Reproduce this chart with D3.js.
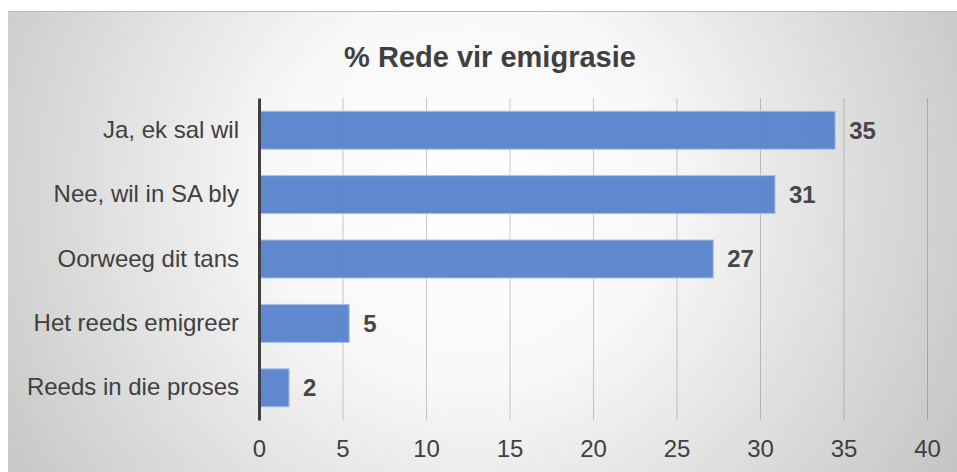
<!DOCTYPE html>
<html>
<head>
<meta charset="utf-8">
<script src="https://cdn.jsdelivr.net/npm/d3@7"></script>
<style>
  body { margin: 0; background: #fff; }
  svg { display: block; font-family: "Liberation Sans", Arial, sans-serif; }
</style>
</head>
<body>
<script>
const width = 957;
const height = 472;

const categories = ["Ja, ek sal wil", "Nee, wil in SA bly", "Oorweeg dit tans", "Het reeds emigreer", "Reeds in die proses"];
const values = [34.5, 30.9, 27.2, 5.4, 1.8];
const labels = ["35", "31", "27", "5", "2"];
const ticks = [0, 5, 10, 15, 20, 25, 30, 35, 40];

const svg = d3.select("body")
  .append("svg")
  .attr("width", width)
  .attr("height", height);

// background with radial gradient
const grad = svg.append("defs")
  .append("radialGradient")
  .attr("id", "bg")
  .attr("gradientUnits", "userSpaceOnUse")
  .attr("cx", 470).attr("cy", 190).attr("r", 560);
grad.append("stop").attr("offset", "0%").attr("stop-color", "#ffffff");
grad.append("stop").attr("offset", "35%").attr("stop-color", "#f8f8f8");
grad.append("stop").attr("offset", "100%").attr("stop-color", "#c4c4c4");

svg.append("rect")
  .attr("x", 8).attr("y", 11)
  .attr("width", width - 8).attr("height", height - 11)
  .attr("fill", "url(#bg)");
svg.append("line")
  .attr("x1", 8).attr("x2", width)
  .attr("y1", 11.5).attr("y2", 11.5)
  .attr("stroke", "#bdbdbd");

const x = d3.scaleLinear().domain([0, 40]).range([259, 927]);
const y = d3.scaleBand().domain(categories).range([98, 420]).paddingInner(0.41).paddingOuter(0.205);

// title
svg.append("text")
  .attr("x", 490).attr("y", 67)
  .attr("text-anchor", "middle")
  .attr("font-size", 29)
  .attr("font-weight", "bold")
  .attr("fill", "#404040")
  .text("% Rede vir emigrasie");

// gridlines
svg.append("g")
  .selectAll("line")
  .data(ticks.slice(1))
  .join("line")
  .attr("x1", d => x(d) + 0.5).attr("x2", d => x(d) + 0.5)
  .attr("y1", 98).attr("y2", 420)
  .attr("stroke", "#000")
  .attr("stroke-opacity", 0.2)
  .attr("stroke-width", 1);

// x tick labels
const xAxis = svg.append("g")
  .attr("transform", "translate(0,420)")
  .call(d3.axisBottom(x).tickValues(ticks).tickSize(0).tickPadding(20));
xAxis.select(".domain").remove();
xAxis.selectAll("text")
  .attr("font-family", "Liberation Sans, Arial, sans-serif")
  .attr("font-size", 24)
  .attr("fill", "#404040");

// bars
svg.append("g")
  .selectAll("rect")
  .data(values)
  .join("rect")
  .attr("x", x(0))
  .attr("y", (d, i) => y(categories[i]))
  .attr("width", d => x(d) - x(0))
  .attr("height", y.bandwidth())
  .attr("fill", "#5a84cc")
  .attr("fill-opacity", 0.97)
  .attr("stroke", "#a9c2ee")
  .attr("stroke-width", 1);

// value labels
svg.append("g")
  .selectAll("text")
  .data(values)
  .join("text")
  .attr("x", d => x(d) + 14)
  .attr("y", (d, i) => y(categories[i]) + y.bandwidth() / 2)
  .attr("dy", "0.35em")
  .attr("font-size", 24)
  .attr("font-weight", "bold")
  .attr("fill", "#474747")
  .text((d, i) => labels[i]);

// y axis
const yAxis = svg.append("g")
  .attr("transform", "translate(259,0)")
  .call(d3.axisLeft(y).tickSize(0).tickPadding(20));
yAxis.select(".domain")
  .attr("stroke", "#404040")
  .attr("stroke-width", 3);
yAxis.selectAll("text")
  .attr("font-family", "Liberation Sans, Arial, sans-serif")
  .attr("font-size", 24)
  .attr("fill", "#404040");
</script>
</body>
</html>
